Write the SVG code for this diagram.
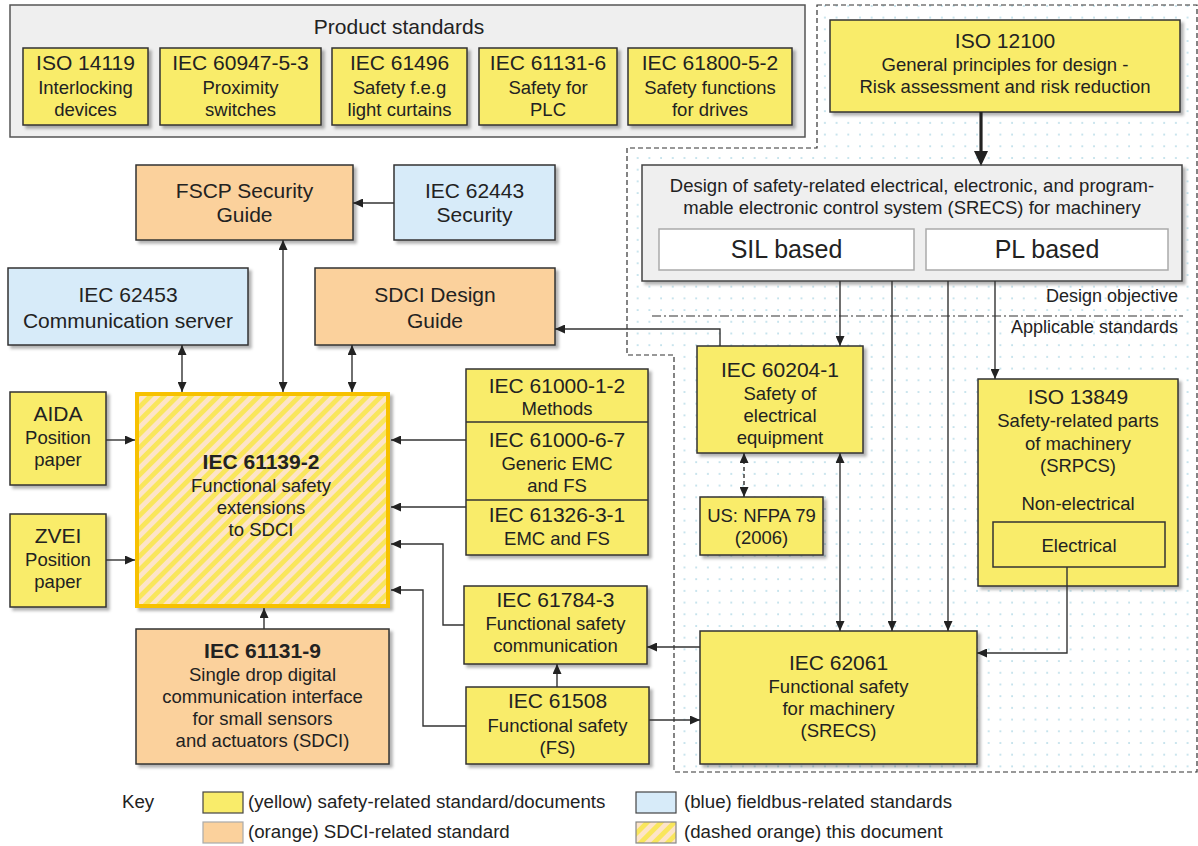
<svg xmlns="http://www.w3.org/2000/svg" width="1198" height="846" viewBox="0 0 1198 846">
<style>
text{font-family:"Liberation Sans",Arial,Helvetica,sans-serif;fill:#222;text-anchor:middle}
.t{font-size:21px}
.s{font-size:18.5px}
.k{font-size:18.7px;text-anchor:start}
.bold{font-weight:bold}
.y{fill:#f9ec6a;stroke:#333;stroke-width:1.5}
.o{fill:#fbd19c;stroke:#333;stroke-width:1.5}
.b{fill:#d7ebf9;stroke:#333;stroke-width:1.5}
.sh{filter:url(#shadow)}
.c{fill:none;stroke:#333;stroke-width:1.4}
.thick{fill:none;stroke:#222;stroke-width:3.2}
</style>
<defs>
<filter id="shadow" x="-10%" y="-10%" width="130%" height="130%">
<feDropShadow dx="3" dy="3" stdDeviation="1.8" flood-color="#000" flood-opacity="0.3"/>
</filter>
<pattern id="dots" width="11.7" height="11.7" patternUnits="userSpaceOnUse">
<rect x="5" y="5" width="1.8" height="1.8" fill="#bfe0ea"/>
</pattern>
<pattern id="hatch" width="9.6" height="9.6" patternUnits="userSpaceOnUse" patternTransform="rotate(45)">
<rect width="9.6" height="9.6" fill="#fde4c8"/>
<rect width="4.8" height="9.6" fill="#f9e65c"/>
</pattern>
<marker id="ah" markerWidth="10" markerHeight="9" refX="10" refY="4.5" orient="auto-start-reverse" markerUnits="userSpaceOnUse">
<path d="M0,0 L10,4.5 L0,9 z" fill="#222"/>
</marker>
<marker id="ahb" markerWidth="14" markerHeight="12" refX="14" refY="6" orient="auto" markerUnits="userSpaceOnUse">
<path d="M0,0 L14,6 L0,12 z" fill="#222"/>
</marker>
</defs>

<rect width="1198" height="846" fill="#fff"/>

<!-- dashed region -->
<g id="region">
<path d="M817,5 H1197 V772 H674 V355 H627 V148 H817 Z" fill="url(#dots)" stroke="#333" stroke-width="1.2" stroke-dasharray="5,3"/>
<line x1="652" y1="316" x2="1183" y2="316" stroke="#333" stroke-width="1.2" stroke-dasharray="9,3,2,3"/>
<text x="1178" y="302" style="font-size:18px;text-anchor:end">Design objective</text>
<text x="1178" y="333" style="font-size:18px;text-anchor:end">Applicable standards</text>
</g>

<!-- product standards -->
<g id="product-standards">
<rect x="10" y="5" width="795" height="132" fill="#efefef" stroke="#555" stroke-width="1.5"/>
<text x="399" y="34" class="t">Product standards</text>
</g>
<g id="iso14119">
<rect x="23" y="48" width="125" height="77" class="y sh"/>
<text x="85.5" y="70" class="t">ISO 14119</text>
<text x="85.5" y="93.5" class="s">Interlocking</text>
<text x="85.5" y="116" class="s">devices</text>
</g>
<g id="iec60947">
<rect x="160" y="48" width="161" height="77" class="y sh"/>
<text x="240.5" y="70" class="t">IEC 60947-5-3</text>
<text x="240.5" y="93.5" class="s">Proximity</text>
<text x="240.5" y="116" class="s">switches</text>
</g>
<g id="iec61496">
<rect x="332" y="48" width="135" height="77" class="y sh"/>
<text x="399.5" y="70" class="t">IEC 61496</text>
<text x="399.5" y="93.5" class="s">Safety f.e.g</text>
<text x="399.5" y="116" class="s">light curtains</text>
</g>
<g id="iec61131-6">
<rect x="479" y="48" width="138" height="77" class="y sh"/>
<text x="548" y="70" class="t">IEC 61131-6</text>
<text x="548" y="93.5" class="s">Safety for</text>
<text x="548" y="116" class="s">PLC</text>
</g>
<g id="iec61800">
<rect x="628" y="48" width="164" height="77" class="y sh"/>
<text x="710" y="70" class="t">IEC 61800-5-2</text>
<text x="710" y="93.5" class="s">Safety functions</text>
<text x="710" y="116" class="s">for drives</text>
</g>

<!-- ISO 12100 -->
<g id="iso12100">
<rect x="830" y="20" width="350" height="92" class="y sh"/>
<text x="1005" y="48" class="t">ISO 12100</text>
<text x="1005" y="71" class="s">General principles for design -</text>
<text x="1005" y="93" class="s">Risk assessment and risk reduction</text>
</g>

<!-- SRECS -->
<g id="srecs">
<rect x="642" y="165" width="540" height="116" fill="#efefef" stroke="#444" stroke-width="1.5" class="sh"/>
<text x="912" y="192" class="s">Design of safety-related electrical, electronic, and program-</text>
<text x="912" y="214" class="s">mable electronic control system (SRECS) for machinery</text>
<rect x="659" y="229" width="255" height="41" fill="#fff" stroke="#aaa" stroke-width="1.5"/>
<text x="786.5" y="258" style="font-size:25px">SIL based</text>
<rect x="926" y="229" width="242" height="41" fill="#fff" stroke="#aaa" stroke-width="1.5"/>
<text x="1047" y="258" style="font-size:25px">PL based</text>
</g>

<!-- left side -->
<g id="fscp">
<rect x="136" y="165" width="217" height="75" class="o sh"/>
<text x="244.5" y="198" class="t">FSCP Security</text>
<text x="244.5" y="222" class="t">Guide</text>
</g>
<g id="iec62443">
<rect x="394" y="165" width="161" height="75" class="b sh"/>
<text x="474.5" y="198" class="t">IEC 62443</text>
<text x="474.5" y="222" class="t">Security</text>
</g>
<g id="iec62453">
<rect x="8" y="268" width="240" height="77" class="b sh"/>
<text x="128" y="302" class="t">IEC 62453</text>
<text x="128" y="328" class="t">Communication server</text>
</g>
<g id="sdci-guide">
<rect x="315" y="268" width="240" height="77" class="o sh"/>
<text x="435" y="302" class="t">SDCI Design</text>
<text x="435" y="328" class="t">Guide</text>
</g>
<g id="aida">
<rect x="10" y="392" width="96" height="93" class="y sh"/>
<text x="58" y="421" class="t">AIDA</text>
<text x="58" y="444" class="s">Position</text>
<text x="58" y="466" class="s">paper</text>
</g>
<g id="zvei">
<rect x="10" y="514" width="96" height="93" class="y sh"/>
<text x="58" y="543" class="t">ZVEI</text>
<text x="58" y="566" class="s">Position</text>
<text x="58" y="588" class="s">paper</text>
</g>
<g id="iec61139-2">
<rect x="137" y="394" width="251" height="212" fill="url(#hatch)" stroke="#f7c100" stroke-width="4" class="sh"/>
<text x="261" y="469" class="t bold">IEC 61139-2</text>
<text x="261" y="492" class="s">Functional safety</text>
<text x="261" y="514" class="s">extensions</text>
<text x="261" y="536" class="s">to SDCI</text>
</g>
<g id="iec61131-9">
<rect x="136" y="629" width="253" height="135" class="o sh"/>
<text x="262.5" y="658" class="t bold">IEC 61131-9</text>
<text x="262.5" y="681" class="s">Single drop digital</text>
<text x="262.5" y="703" class="s">communication interface</text>
<text x="262.5" y="725" class="s">for small sensors</text>
<text x="262.5" y="747" class="s">and actuators (SDCI)</text>
</g>
<g id="iec61000">
<rect x="466" y="369" width="182" height="186" class="y sh"/>
<line x1="466" y1="422" x2="648" y2="422" stroke="#333" stroke-width="1.5"/>
<line x1="466" y1="500" x2="648" y2="500" stroke="#333" stroke-width="1.5"/>
<text x="557" y="393" class="t">IEC 61000-1-2</text>
<text x="557" y="415" class="s">Methods</text>
<text x="557" y="447" class="t">IEC 61000-6-7</text>
<text x="557" y="470" class="s">Generic EMC</text>
<text x="557" y="492" class="s">and FS</text>
<text x="557" y="522" class="t">IEC 61326-3-1</text>
<text x="557" y="545" class="s">EMC and FS</text>
</g>
<g id="iec61784-3">
<rect x="464" y="586" width="183" height="78" class="y sh"/>
<text x="555.5" y="607" class="t">IEC 61784-3</text>
<text x="555.5" y="630" class="s">Functional safety</text>
<text x="555.5" y="652" class="s">communication</text>
</g>
<g id="iec61508">
<rect x="466" y="687" width="183" height="77" class="y sh"/>
<text x="557.5" y="708" class="t">IEC 61508</text>
<text x="557.5" y="732" class="s">Functional safety</text>
<text x="557.5" y="754" class="s">(FS)</text>
</g>

<!-- right side -->
<g id="iec60204-1">
<rect x="697" y="346" width="166" height="107" class="y sh"/>
<text x="780" y="377" class="t">IEC 60204-1</text>
<text x="780" y="400" class="s">Safety of</text>
<text x="780" y="422" class="s">electrical</text>
<text x="780" y="444" class="s">equipment</text>
</g>
<g id="nfpa79">
<rect x="700" y="497" width="123" height="58" class="y sh"/>
<text x="761.5" y="522" class="s">US: NFPA 79</text>
<text x="761.5" y="544" class="s">(2006)</text>
</g>
<g id="iso13849">
<rect x="978" y="379" width="200" height="207" class="y sh"/>
<text x="1078" y="404" class="t">ISO 13849</text>
<text x="1078" y="427" class="s">Safety-related parts</text>
<text x="1078" y="450" class="s">of machinery</text>
<text x="1078" y="472" class="s">(SRPCS)</text>
<text x="1078" y="510" class="s">Non-electrical</text>
<rect x="993" y="522" width="172" height="45" fill="#f9ec6a" stroke="#333" stroke-width="1.5"/>
<text x="1079" y="552" class="s">Electrical</text>
</g>
<g id="iec62061">
<rect x="700" y="631" width="277" height="133" class="y sh"/>
<text x="838.5" y="670" class="t">IEC 62061</text>
<text x="838.5" y="693" class="s">Functional safety</text>
<text x="838.5" y="715" class="s">for machinery</text>
<text x="838.5" y="737" class="s">(SRECS)</text>
</g>

<!-- connectors -->
<g id="connectors">
<path class="thick" d="M981,112 V152"/>
<path d="M974,151 L988,151 L981,166 z" fill="#222"/>
<path class="c" d="M394,203 H353" marker-end="url(#ah)"/>
<path class="c" d="M182,345 V392" marker-start="url(#ah)" marker-end="url(#ah)"/>
<path class="c" d="M283,240 V392" marker-start="url(#ah)" marker-end="url(#ah)"/>
<path class="c" d="M352,345 V392" marker-start="url(#ah)" marker-end="url(#ah)"/>
<path class="c" d="M106,440 H135" marker-end="url(#ah)"/>
<path class="c" d="M106,560 H135" marker-end="url(#ah)"/>
<path class="c" d="M466,440 H391" marker-end="url(#ah)"/>
<path class="c" d="M466,507 H391" marker-end="url(#ah)"/>
<path class="c" d="M464,625 H443 V544 H391" marker-end="url(#ah)"/>
<path class="c" d="M466,726 H423 V590 H391" marker-end="url(#ah)"/>
<path class="c" d="M264,629 V608" marker-end="url(#ah)"/>
<path class="c" d="M557,687 V664" marker-end="url(#ah)"/>
<path class="c" d="M700,647 H647" marker-end="url(#ah)"/>
<path class="c" d="M649,720 H700" marker-end="url(#ah)"/>
<path class="c" d="M720,346 V329 H555" marker-end="url(#ah)"/>
<path class="c" d="M840,281 V346" marker-end="url(#ah)"/>
<path class="c" d="M892,281 V631" marker-end="url(#ah)"/>
<path class="c" d="M948,281 V631" marker-end="url(#ah)"/>
<path class="c" d="M995,281 V379" marker-end="url(#ah)"/>
<path class="c" d="M840,453 V631" marker-start="url(#ah)" marker-end="url(#ah)"/>
<path class="c" d="M744,453 V497" stroke-dasharray="4,3" marker-start="url(#ah)" marker-end="url(#ah)"/>
<path class="c" d="M1067,567 V653 H977" marker-end="url(#ah)"/>
</g>

<!-- key -->
<g id="key">
<text x="122" y="808" class="k">Key</text>
<rect x="203" y="792" width="40" height="21" fill="#f9ec6a" stroke="#444" stroke-width="1.2"/>
<text x="248" y="808" class="k">(yellow) safety-related standard/documents</text>
<rect x="203" y="822" width="40" height="21" fill="#fbd19c" stroke="#aaa" stroke-width="1.2"/>
<text x="248" y="838" class="k">(orange) SDCI-related standard</text>
<rect x="636" y="792" width="40" height="21" fill="#d7ebf9" stroke="#444" stroke-width="1.2"/>
<text x="684" y="808" class="k">(blue) fieldbus-related standards</text>
<rect x="636" y="822" width="40" height="21" fill="url(#hatch)" stroke="#888" stroke-width="1.2"/>
<text x="684" y="838" class="k">(dashed orange) this document</text>
</g>
</svg>
